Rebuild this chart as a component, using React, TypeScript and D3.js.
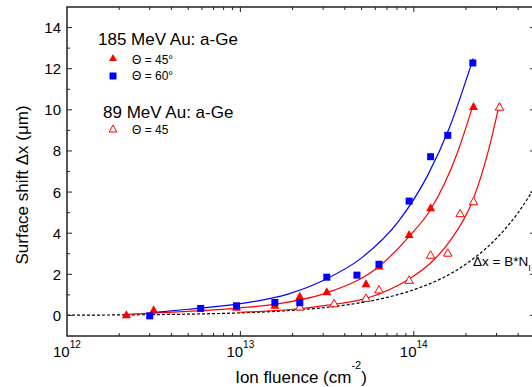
import React from 'react';
import * as d3 from 'd3';

// ---------- data ----------
// 185 MeV Au: a-Ge, Θ = 60° (blue squares)
const fluence60 = [3.0e12, 5.9e12, 9.5e12, 1.58e13, 2.2e13, 3.15e13, 4.7e13, 6.3e13, 9.4e13, 1.25e14, 1.57e14, 2.19e14];
const shift60 = [-0.02, 0.34, 0.47, 0.63, 0.62, 1.86, 1.96, 2.49, 5.56, 7.72, 8.76, 12.28];

// 185 MeV Au: a-Ge, Θ = 45° (red filled triangles)
const fluence45 = [2.2e12, 3.16e12, 9.5e12, 1.58e13, 2.2e13, 3.15e13, 5.3e13, 6.3e13, 9.4e13, 1.25e14, 2.21e14];
const shift45 = [0.03, 0.28, 0.4, 0.5, 0.93, 1.15, 1.54, 2.4, 3.94, 5.24, 10.16];

// 89 MeV Au: a-Ge, Θ = 45 (red open triangles)
const fluence89 = [2.2e13, 3.47e13, 5.3e13, 6.3e13, 9.4e13, 1.25e14, 1.57e14, 1.85e14, 2.21e14, 3.12e14];
const shift89 = [0.42, 0.58, 0.84, 1.25, 1.72, 2.94, 3.04, 4.96, 5.54, 10.14];

// fit curves
const fitFluence60 = [3.0e12, 5e12, 1e13, 1.9e13, 3e13, 5e13, 8.2e13, 1.2e14, 1.6e14, 2.2e14];
const fitShift60 = [0.12, 0.3, 0.57, 1.05, 1.7, 2.8, 4.6, 6.8, 9.1, 12.5];

const fitFluence45 = [2.2e12, 5e12, 1e13, 1.67e13, 3.2e13, 6.3e13, 9.3e13, 1.25e14, 1.8e14, 2.21e14];
const fitShift45 = [0.05, 0.2, 0.37, 0.57, 1.12, 2.38, 3.8, 5.15, 8.0, 10.3];

const fitFluence89 = [1e13, 2e13, 3.2e13, 5.4e13, 9.3e13, 1.25e14, 1.63e14, 2.19e14, 2.7e14, 3.12e14];
const fitShift89 = [0.15, 0.3, 0.5, 0.85, 1.75, 2.55, 3.66, 5.6, 8.05, 10.3];

// linear reference  Δx = B*N_I
const B = 1.25e-14;

// axes
const xDomain = [1e12, 5e14];
const yDomain = [-1, 15];
const yMajorTicks = [0, 2, 4, 6, 8, 10, 12, 14];
const xLabelExps = [12, 13, 14];

const FONT = "'Liberation Sans', Arial, Helvetica, sans-serif";

const W = 532, H = 387;
const L = 67, R = 535, T = 7, Bt = 336;

export default function App() {
  const x = d3.scaleLog().domain(xDomain).range([L, R]);
  const y = d3.scaleLinear().domain(yDomain).range([Bt, T]);

  const xTicksAll = x.ticks().filter(v => v > xDomain[0] * 1.0001 && v < xDomain[1] * 0.9999);
  const isMajorX = (v: number) => Math.abs(Math.log10(v) - Math.round(Math.log10(v))) < 1e-9;
  const yAll = d3.range(yDomain[0] + 1, yDomain[1], 1);

  const line = d3.line<[number, number]>()
    .x(d => x(d[0]))
    .y(d => y(d[1]))
    .curve(d3.curveMonotoneX);

  const fit60 = line(fitFluence60.map((f, i) => [f, fitShift60[i]]));
  const fit45 = line(fitFluence45.map((f, i) => [f, fitShift45[i]]));
  const fit89 = line(fitFluence89.map((f, i) => [f, fitShift89[i]]));
  const dashN = [xDomain[0], ...x.ticks(), xDomain[1]].filter((v, i, a) => a.indexOf(v) === i);
  const dashed = line(dashN.map(n => [n, B * n] as [number, number]));

  const tri = (cx: number, cy: number, w = 9, h = 8) =>
    `${cx},${cy - h / 2 - 0.5} ${cx + w / 2},${cy + h / 2 - 0.5} ${cx - w / 2},${cy + h / 2 - 0.5}`;

  const red = '#ff0000';
  const blue = '#0000ff';
  const axisColor = '#222';

  return (
    <svg width={W} height={H} style={{ position: 'absolute', left: 0, top: 0, background: '#fff' }}
      fontFamily={FONT}>
      <defs>
        <clipPath id="plot">
          <rect x={L} y={T} width={R - L} height={Bt - T} />
        </clipPath>
      </defs>

      {/* curves */}
      <g clipPath="url(#plot)" fill="none">
        <path d={dashed || ''} stroke="#000" strokeWidth={1.2} strokeDasharray="3,2" />
        <path d={fit89 || ''} stroke={red} strokeWidth={1.2} />
        <path d={fit45 || ''} stroke={red} strokeWidth={1.2} />
        <path d={fit60 || ''} stroke={blue} strokeWidth={1.2} />
      </g>

      {/* markers */}
      <g clipPath="url(#plot)">
        {fluence89.map((f, i) => (
          <polygon key={'o' + i} points={tri(x(f), y(shift89[i]), 8.5, 7.5)} fill="#fff" stroke={red} strokeWidth={1} />
        ))}
        {fluence45.map((f, i) => (
          <polygon key={'t' + i} points={tri(x(f), y(shift45[i]))} fill={red} />
        ))}
        {fluence60.map((f, i) => (
          <rect key={'s' + i} x={x(f) - 3.5} y={y(shift60[i]) - 3.5} width={7} height={7} fill={blue} />
        ))}
      </g>

      {/* frame */}
      <rect x={L} y={T} width={R - L} height={Bt - T} fill="none" stroke={axisColor} strokeWidth={1.5} />

      {/* x ticks bottom & top */}
      {xTicksAll.map((v, i) => {
        const len = isMajorX(v) ? 5 : 3;
        return (
          <g key={'xt' + i} stroke={axisColor} strokeWidth={1}>
            <line x1={x(v)} x2={x(v)} y1={Bt} y2={Bt - len} />
            <line x1={x(v)} x2={x(v)} y1={T} y2={T + len} />
          </g>
        );
      })}
      {/* y ticks left & right */}
      {yAll.map((v, i) => {
        const len = v % 2 === 0 ? 5 : 3;
        return (
          <g key={'yt' + i} stroke={axisColor} strokeWidth={1}>
            <line x1={L} x2={L + len} y1={y(v)} y2={y(v)} />
            <line x1={R} x2={R - len} y1={y(v)} y2={y(v)} />
          </g>
        );
      })}

      {/* y tick labels */}
      {yMajorTicks.map(v => (
        <text key={'yl' + v} x={61} y={y(v) + 5.5} textAnchor="end" fontSize={15} fill="#000">{v}</text>
      ))}
      {/* x tick labels */}
      {xLabelExps.map(e => (
        <text key={'xl' + e} x={x(Math.pow(10, e)) - 14} y={357} fontSize={15} fill="#000">
          10<tspan fontSize={10} dy={-9}>{e}</tspan>
        </text>
      ))}

      {/* axis titles */}
      <text x={301} y={383} textAnchor="middle" fontSize={17} fill="#000">
        Ion fluence (cm<tspan fontSize={11} dy={-14}>-2</tspan><tspan dy={14}>)</tspan>
      </text>
      <text transform="translate(28,185) rotate(-90)" textAnchor="middle" fontSize={17} fill="#000">
        Surface shift Δx (μm)
      </text>

      {/* legend */}
      <text x={98} y={45} fontSize={17} fill="#000">185 MeV Au: a-Ge</text>
      <polygon points={tri(113, 58, 8, 7)} fill={red} />
      <text x={132} y={64} fontSize={12} fill="#000">Θ = 45°</text>
      <rect x={109.5} y={72.5} width={7} height={7} fill={blue} />
      <text x={132} y={80} fontSize={12} fill="#000">Θ = 60°</text>
      <text x={103} y={118} fontSize={17} fill="#000">89 MeV Au: a-Ge</text>
      <polygon points={tri(113, 129, 7.5, 7)} fill="#fff" stroke={red} strokeWidth={1} />
      <text x={132} y={134} fontSize={12} fill="#000">Θ = 45</text>

      {/* formula label */}
      <text x={473} y={266} fontSize={13.5} fill="#000">
        Δx = B*N<tspan fontSize={9} dy={5}>I</tspan>
      </text>
    </svg>
  );
}
